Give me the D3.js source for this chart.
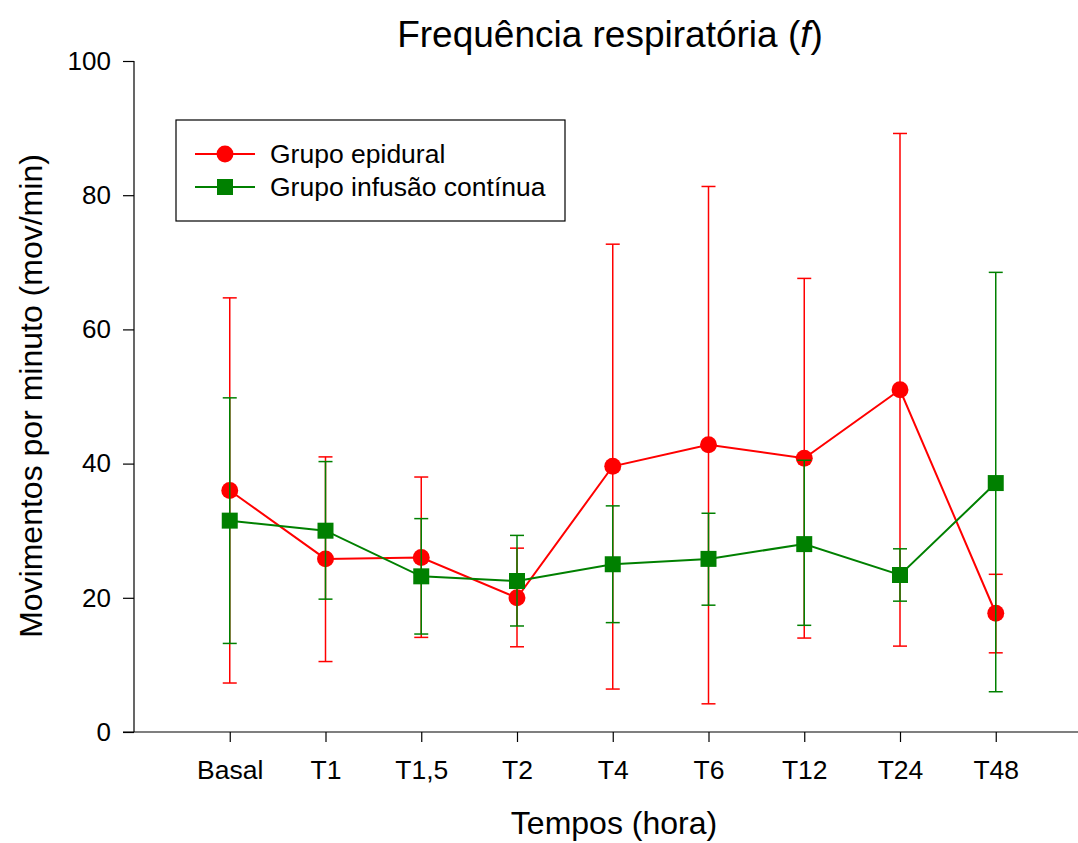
<!DOCTYPE html>
<html>
<head>
<meta charset="utf-8">
<script src="https://cdn.jsdelivr.net/npm/d3@7"></script>
<style>
  body { margin: 0; background: #fff; }
  svg { display: block; font-family: "Liberation Sans", Arial, sans-serif; }
</style>
</head>
<body>
<svg id="chart" width="1078" height="843"></svg>
<script>
const categories = ["Basal", "T1", "T1,5", "T2", "T4", "T6", "T12", "T24", "T48"];

// Grupo epidural (red)
const epiMean  = [36.0, 25.8, 26.0, 20.0, 39.6, 42.8, 40.8, 51.0, 17.7];
const epiUpper = [64.7, 41.0, 38.0, 27.4, 72.7, 81.3, 67.6, 89.2, 23.5];
const epiLower = [7.3, 10.5, 14.1, 12.7, 6.4, 4.2, 14.0, 12.8, 11.8];

// Grupo infusão contínua (green)
const infMean  = [31.5, 30.0, 23.2, 22.5, 25.0, 25.8, 28.0, 23.4, 37.1];
const infUpper = [49.8, 40.3, 31.8, 29.3, 33.7, 32.6, 40.5, 27.3, 68.5];
const infLower = [13.2, 19.8, 14.6, 15.8, 16.3, 18.9, 15.9, 19.5, 6.0];

const yTicks = [0, 20, 40, 60, 80, 100];

const svg = d3.select('#chart');
const plotLeft = 134, plotTop = 61, plotBottom = 732, plotRight = 1078;

const x = d3.scaleLinear().domain([0, categories.length + 1]).range([plotLeft, plotLeft + 95.75 * (categories.length + 1)]);
const y = d3.scaleLinear().domain([0, 100]).range([plotBottom, plotTop]);

// y axis
const yAxis = svg.append('g')
  .attr('transform', `translate(${plotLeft},0)`)
  .call(d3.axisLeft(y).tickValues(yTicks).tickSize(11).tickPadding(12));
yAxis.select('.domain').attr('d', `M0,${plotTop}V${plotBottom}`).attr('stroke', '#000').attr('stroke-width', 1.2);
yAxis.selectAll('.tick line').attr('stroke', '#000').attr('stroke-width', 1.2);
yAxis.selectAll('.tick text').style('font-size', '26px').attr('fill', '#000');

// x axis
const xAxis = svg.append('g')
  .attr('transform', `translate(0,${plotBottom})`)
  .call(d3.axisBottom(x)
    .tickValues(categories.map((c, i) => i + 1))
    .tickFormat(d => categories[d - 1])
    .tickSize(10).tickPadding(18));
xAxis.select('.domain').attr('d', `M${plotLeft - 11},0H${plotRight}`).attr('stroke', '#000').attr('stroke-width', 1.2);
xAxis.selectAll('.tick line').attr('stroke', '#000').attr('stroke-width', 1.2);
xAxis.selectAll('.tick text').style('font-size', '26.5px').attr('fill', '#000');

function drawSeries(mean, upper, lower, color, shape) {
  const g = svg.append('g');
  const idx = d3.range(mean.length);
  const cap = 7;

  g.selectAll('.bar').data(idx).enter().append('line')
    .attr('x1', i => x(i + 1)).attr('x2', i => x(i + 1))
    .attr('y1', i => y(lower[i])).attr('y2', i => y(upper[i]))
    .attr('stroke', color).attr('stroke-width', 1.5);
  [upper, lower].forEach(arr => {
    g.selectAll(null).data(idx).enter().append('line')
      .attr('x1', i => x(i + 1) - cap).attr('x2', i => x(i + 1) + cap)
      .attr('y1', i => y(arr[i])).attr('y2', i => y(arr[i]))
      .attr('stroke', color).attr('stroke-width', 1.5);
  });

  const line = d3.line().x(i => x(i + 1)).y(i => y(mean[i]));
  g.append('path').datum(idx)
    .attr('d', line).attr('fill', 'none')
    .attr('stroke', color).attr('stroke-width', 2);

  const sym = d3.symbol().type(shape).size(shape === d3.symbolCircle ? 225 : 256);
  g.selectAll('.pt').data(idx).enter().append('path')
    .attr('transform', i => `translate(${x(i + 1)},${y(mean[i])})`)
    .attr('d', sym).attr('fill', color);
}

drawSeries(epiMean, epiUpper, epiLower, '#ff0000', d3.symbolCircle);
drawSeries(infMean, infUpper, infLower, '#008000', d3.symbolSquare);

// title
const title = svg.append('text')
  .attr('x', 610).attr('y', 47)
  .attr('text-anchor', 'middle')
  .style('font-size', '37px');
title.append('tspan').text('Frequência respiratória (');
title.append('tspan').style('font-style', 'italic').text('f');
title.append('tspan').text(')');

// axis titles
svg.append('text')
  .attr('x', 614).attr('y', 834)
  .attr('text-anchor', 'middle')
  .style('font-size', '32px')
  .text('Tempos (hora)');

svg.append('text')
  .attr('transform', `translate(42,396) rotate(-90)`)
  .attr('text-anchor', 'middle')
  .style('font-size', '32px')
  .text('Movimentos por minuto (mov/min)');

// legend
const legend = svg.append('g').attr('transform', 'translate(176,120)');
legend.append('rect')
  .attr('width', 389).attr('height', 101)
  .attr('fill', '#fff').attr('stroke', '#000').attr('stroke-width', 1.2);

const legendItems = [
  { label: 'Grupo epidural', color: '#ff0000', shape: d3.symbolCircle, size: 225 },
  { label: 'Grupo infusão contínua', color: '#008000', shape: d3.symbolSquare, size: 256 }
];
const li = legend.selectAll('.legend-item').data(legendItems).enter().append('g')
  .attr('transform', (d, i) => `translate(0, ${34 + i * 33})`);
li.append('line')
  .attr('x1', 19).attr('x2', 79)
  .attr('stroke', d => d.color).attr('stroke-width', 2);
li.append('path')
  .attr('transform', 'translate(49,0)')
  .attr('d', d => d3.symbol().type(d.shape).size(d.size)())
  .attr('fill', d => d.color);
li.append('text')
  .attr('x', 94).attr('dy', '0.35em')
  .style('font-size', '26.5px')
  .text(d => d.label);
</script>
</body>
</html>
